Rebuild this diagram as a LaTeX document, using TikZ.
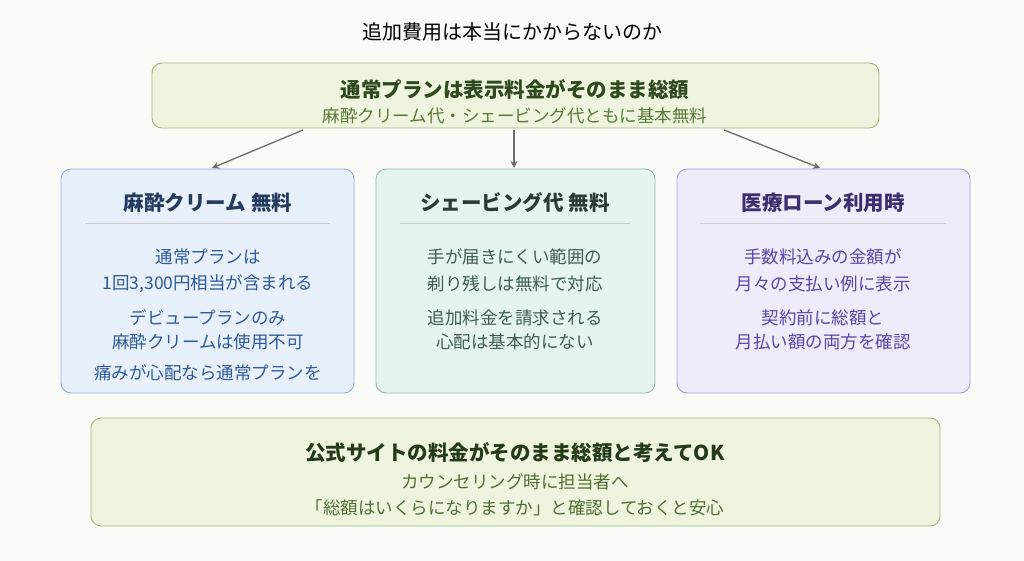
\documentclass[tikz,border=0pt]{standalone}
\usepackage{fontspec}
\setmainfont{Noto Sans CJK JP}
\usetikzlibrary{arrows.meta}
\definecolor{bg}{HTML}{FAFAF7}
\definecolor{gfill}{HTML}{EEF4DD}\definecolor{gbord}{HTML}{9DB87A}
\definecolor{gdark}{HTML}{2F4A1E}\definecolor{gtext}{HTML}{5A7A3A}
\definecolor{bfill}{HTML}{E8F0FB}\definecolor{bbord}{HTML}{8FAEDB}
\definecolor{bdark}{HTML}{233B5E}\definecolor{btext}{HTML}{2E5A9A}
\definecolor{mfill}{HTML}{E6F4EE}\definecolor{mbord}{HTML}{8CBFA6}
\definecolor{mdark}{HTML}{2B3B33}\definecolor{mtext}{HTML}{3F5F50}
\definecolor{pfill}{HTML}{EEEBFB}\definecolor{pbord}{HTML}{A89BE0}
\definecolor{pdark}{HTML}{3B2F6E}\definecolor{ptext}{HTML}{5B46A8}
\begin{document}
\begin{tikzpicture}[x=1pt,y=-1pt,
 box/.style={draw, rounded corners=10pt, line width=0.9pt},
 arr/.style={-{Stealth[length=7pt,width=7pt]}, draw=gray!85!black, line width=1.3pt},
 t/.style={font=\fontsize{17.5}{20}\selectfont},
 h/.style={font=\fontsize{20.5}{24}\selectfont\bfseries}]
\fill[bg] (0,0) rectangle (1024,561);
\useasboundingbox (0,0) rectangle (1024,561);
\node[font=\fontsize{20}{24}\selectfont] (title) at (512,32) {追加費用は本当にかからないのか};
% top
\draw[box, fill=gfill, draw=gbord] (152,63) rectangle (879,128);
\node[h, text=gdark] (top) at (515,89) {通常プランは表示料金がそのまま総額};
\node[t, text=gtext] (top2) at (515,116) {麻酔クリーム代・シェービング代ともに基本無料};
\coordinate (a1) at (303,130); \coordinate (a2) at (514,130); \coordinate (a3) at (724,130);
% left
\draw[box, fill=bfill, draw=bbord] (61,169) rectangle (354,393);
\node[h, text=bdark] (L) at (208,203) {麻酔クリーム 無料};
\draw[gray!40, line width=0.8pt] (85,223) -- (330,223);
\node[t,text=btext] at (208,257) {通常プランは};
\node[t,text=btext] at (208,284) {1回3,300円相当が含まれる};
\node[t,text=btext] at (208,318) {デビュープランのみ};
\node[t,text=btext] at (208,342) {麻酔クリームは使用不可};
\node[t,text=btext] at (208,373) {痛みが心配なら通常プランを};
\coordinate (b1) at (212,168);
% middle
\draw[box, fill=mfill, draw=mbord] (376,169) rectangle (655,393);
\node[h, text=mdark] (M) at (515,203) {シェービング代 無料};
\draw[gray!40, line width=0.8pt] (400,223) -- (630,223);
\node[t,text=mtext] at (515,257) {手が届きにくい範囲の};
\node[t,text=mtext] at (515,284) {剃り残しは無料で対応};
\node[t,text=mtext] at (515,318) {追加料金を請求される};
\node[t,text=mtext] at (515,342) {心配は基本的にない};
\coordinate (b2) at (514,168);
% right
\draw[box, fill=pfill, draw=pbord] (677,169) rectangle (970,393);
\node[h, text=pdark] (R) at (823,203) {医療ローン利用時};
\draw[gray!40, line width=0.8pt] (700,223) -- (946,223);
\node[t,text=ptext] at (823,257) {手数料込みの金額が};
\node[t,text=ptext] at (823,284) {月々の支払い例に表示};
\node[t,text=ptext] at (823,318) {契約前に総額と};
\node[t,text=ptext] at (823,342) {月払い額の両方を確認};
\coordinate (b3) at (820,168);
\draw[arr] (a1) -- (b1); \draw[arr] (a2) -- (b2); \draw[arr] (a3) -- (b3);
% bottom
\draw[box, fill=gfill, draw=gbord] (91,418) rectangle (940,526);
\node[h, text=gdark!80!black] (B) at (515,453) {公式サイトの料金がそのまま総額と考えてOK};
\node[t,text=gtext!90!black] at (515,482) {カウンセリング時に担当者へ};
\node[t,text=gtext!90!black] at (515,508) {「総額はいくらになりますか」と確認しておくと安心};
\end{tikzpicture}
\end{document}
